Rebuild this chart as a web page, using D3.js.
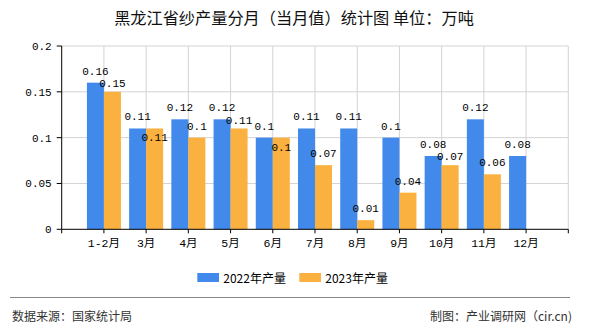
<!DOCTYPE html>
<html><head><meta charset="utf-8">
<script src="https://cdn.jsdelivr.net/npm/d3@7"></script>
<style>
html,body{margin:0;padding:0;background:#fff;}
svg{display:block;}
</style></head>
<body>
<svg id="chart" width="590" height="330"></svg>
<script>
const categories = ["1-2月","3月","4月","5月","6月","7月","8月","9月","10月","11月","12月"];
const series2022 = [0.16,0.11,0.12,0.12,0.1,0.11,0.11,0.1,0.08,0.12,0.08];
const series2023 = [0.15,0.11,0.1,0.11,0.1,0.07,0.01,0.04,0.07,0.06,null];
const seriesNames = ["2022年产量","2023年产量"];
const yTicks = [0,0.05,0.1,0.15,0.2];
const colors = ["#4189EB","#FBB13F"];

const svg = d3.select("#chart");
const L = 61.7, R = 568.3, T = 46, B = 229.3;
const monoFont = "'Liberation Mono','DejaVu Sans Mono','Noto Sans CJK SC',monospace";
const cjkFont = "'Noto Sans CJK SC','Noto Sans',sans-serif";

const x = d3.scalePoint().domain(categories).range([L, R]).padding(1);
const y = d3.scaleLinear().domain([0, 0.2]).range([B, T]);
const sub = d3.scaleBand().domain(seriesNames).range([-17, 17]);

// title
svg.append("text").attr("x", 294).attr("y", 24).attr("text-anchor","middle")
  .style("font-family", cjkFont).style("font-size","16.2px").attr("fill","#111")
  .text("黑龙江省纱产量分月（当月值）统计图 单位：万吨");

// grid positions
const step = x.step();
const gridX = d3.range(0, categories.length + 2).map(k => L + k * step);

const grid = svg.append("g");
grid.selectAll("line.h").data(yTicks.filter(d => d > 0)).join("line")
  .attr("x1", L).attr("x2", R).attr("y1", d => y(d)).attr("y2", d => y(d))
  .attr("stroke", "#d3d3d3").attr("stroke-width", 1);
grid.selectAll("line.v").data(gridX.slice(1)).join("line")
  .attr("x1", d => d).attr("x2", d => d).attr("y1", T).attr("y2", B)
  .attr("stroke", "#d3d3d3").attr("stroke-width", 1);

// bars
const data = categories.map((c, i) => ({c, vals: [series2022[i], series2023[i]]}));
const bars = svg.append("g");
seriesNames.forEach((s, si) => {
  bars.selectAll("rect.s" + si).data(data.filter(d => d.vals[si] != null)).join("rect")
    .attr("x", d => x(d.c) + sub(s)).attr("width", sub.bandwidth())
    .attr("y", d => y(d.vals[si])).attr("height", d => B - y(d.vals[si]))
    .attr("fill", colors[si]);
});

// axes
const axisG = svg.append("g");
axisG.append("line").attr("x1", L).attr("x2", R).attr("y1", B).attr("y2", B).attr("stroke","#000");
axisG.append("line").attr("x1", L).attr("x2", L).attr("y1", T).attr("y2", B).attr("stroke","#000");
axisG.selectAll("line.xt").data(gridX).join("line")
  .attr("x1", d => d).attr("x2", d => d).attr("y1", B).attr("y2", B + 4).attr("stroke","#000");
axisG.selectAll("line.yt").data(yTicks).join("line")
  .attr("x1", L - 5).attr("x2", L).attr("y1", d => y(d)).attr("y2", d => y(d)).attr("stroke","#000");
axisG.selectAll("text.yl").data(yTicks).join("text")
  .attr("x", L - 10).attr("y", d => y(d) + 4).attr("text-anchor","end")
  .style("font-family", monoFont).style("font-size","11px").attr("fill","#000")
  .text(d => d3.format("")(d));
axisG.selectAll("text.xl").data(categories).join("text")
  .attr("x", d => x(d)).attr("y", 247).attr("text-anchor","middle")
  .style("font-family", monoFont).style("font-size","11.5px").attr("fill","#000")
  .text(d => d);

// value labels with simple overlap avoidance
const labels = svg.append("g").style("font-family", monoFont).style("font-size","11px").attr("fill","#000");
data.forEach(d => {
  const bBase = y(d.vals[0]) - 8;
  labels.append("text").attr("x", x(d.c) + sub(seriesNames[0]) + sub.bandwidth()/2)
    .attr("y", bBase).attr("text-anchor","middle").text(d.vals[0]);
  if (d.vals[1] != null) {
    let oBase = y(d.vals[1]) - 8;
    const gap = oBase - bBase;
    if (Math.abs(gap) < 3) oBase = bBase + 21;
    else if (gap > 0 && gap < 12.5) oBase = bBase + 12.5;
    labels.append("text").attr("x", x(d.c) + sub(seriesNames[1]) + sub.bandwidth()/2)
      .attr("y", oBase).attr("text-anchor","middle").text(d.vals[1]);
  }
});

// legend
const legendX = [197.3, 299.3];
const lg = svg.append("g");
seriesNames.forEach((s, i) => {
  lg.append("rect").attr("x", legendX[i]).attr("y", 273).attr("width", 21.7).attr("height", 9).attr("fill", colors[i]);
  lg.append("text").attr("x", legendX[i] + 26).attr("y", 282.5)
    .style("font-family", cjkFont).style("font-size","12px").attr("fill","#000").text(s);
});

// footer
svg.append("line").attr("x1", 10).attr("x2", 570).attr("y1", 297.5).attr("y2", 297.5).attr("stroke","#888").attr("stroke-width",1.2);
svg.append("text").attr("x", 12).attr("y", 321).style("font-family", cjkFont).style("font-size","12px").attr("fill","#333")
  .text("数据来源：国家统计局");
svg.append("text").attr("x", 572).attr("y", 321).attr("text-anchor","end").style("font-family", cjkFont).style("font-size","12px").attr("fill","#333")
  .text("制图：产业调研网（cir.cn)");
</script>
</body></html>
